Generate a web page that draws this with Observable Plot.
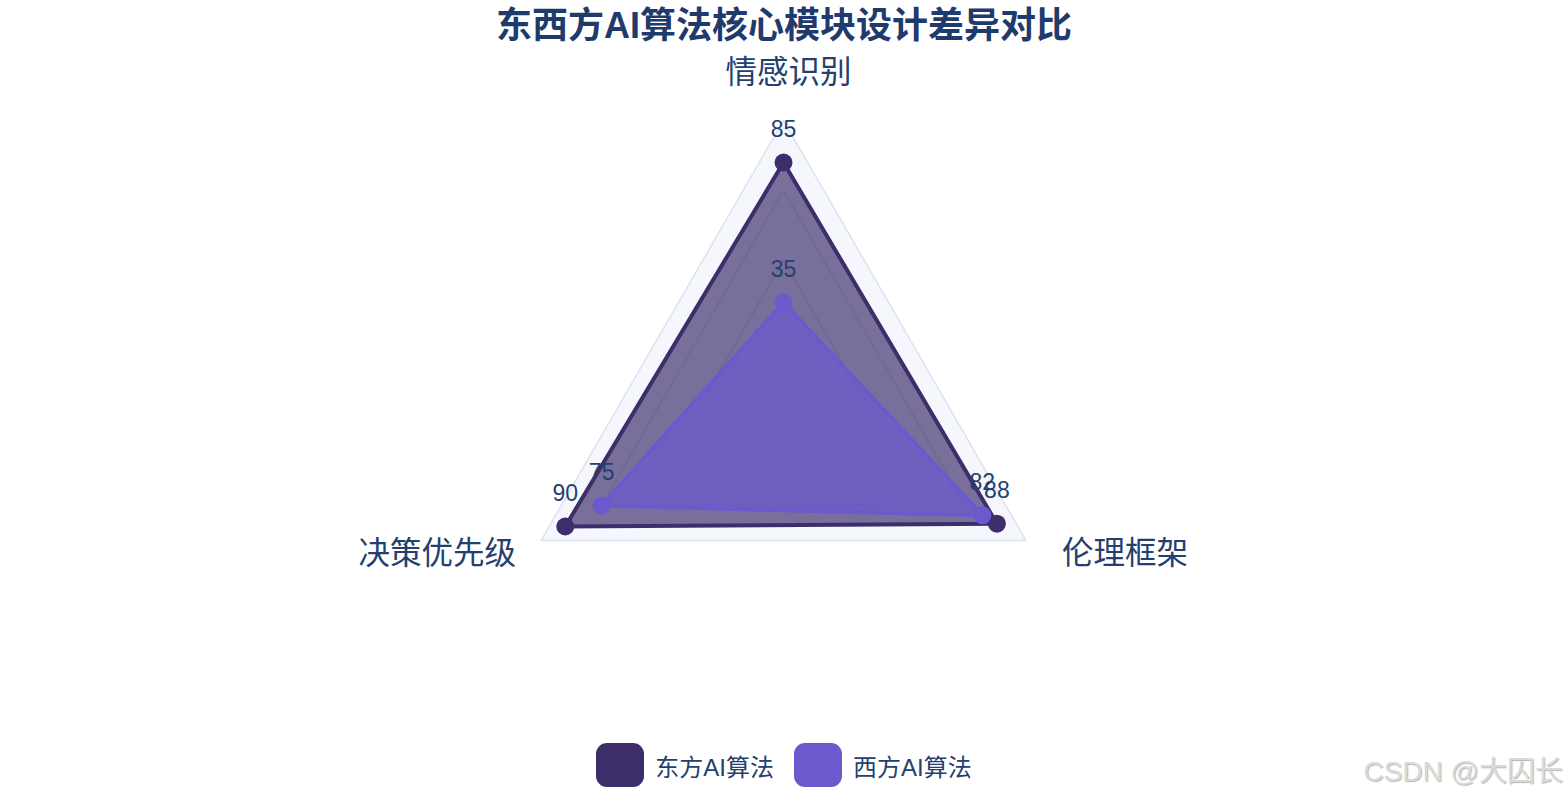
<!DOCTYPE html>
<html>
<head>
<meta charset="utf-8">
<script src="https://cdn.jsdelivr.net/npm/d3@7"></script>
<script src="https://cdn.jsdelivr.net/npm/@observablehq/plot@0.6"></script>
<style>
  html, body { margin: 0; padding: 0; background: #fff; }
  body { width: 1568px; height: 800px; position: relative; overflow: hidden;
         font-family: "Liberation Sans", Arial, "Noto Sans CJK SC", sans-serif; }
  #title { height: 50px; line-height: 51px; text-align: center; font-size: 36px; font-weight: bold;
           color: #1f3a6c; letter-spacing: 0px; }
  #chart { height: 680px; }
  #chart svg { display: block; }
  #legend { height: 70px; display: flex; justify-content: center; align-items: center; gap: 0; }
  .item { display: flex; align-items: center; margin: 0 10px; }
  .sw { width: 48px; height: 44px; border-radius: 11px; margin-right: 11px; }
  .lab { font-size: 24px; color: #24406f; }
  #wm { position: absolute; right: 5px; bottom: 11px; font-size: 28px; color: #dadada;
        text-shadow: 1px 1px 1px #b8b8b8; font-family: "Liberation Sans", Arial, "Noto Sans CJK SC", sans-serif; }
</style>
</head>
<body>
<div id="title"></div>
<div id="chart"></div>
<div id="legend"></div>
<div id="wm">CSDN @大囚长</div>
<script>
// ---- data ----
const titleText = "东西方AI算法核心模块设计差异对比";
const categories = ["情感识别", "伦理框架", "决策优先级"];
const seriesNames = ["东方AI算法", "西方AI算法"];
const eastValues = [85, 88, 90];
const westValues = [35, 82, 75];
const gridLevels = [25, 50, 75];
const radialMax = 100;

// ---- styles ----
const colors = ["#3d2e6b", "#6a5acd"];
const fillOpacity = [0.68, 0.74];
const textColor = "#24406f";
const angleDeg = [90, -30, 210];
const labelStyle = [
  {textAnchor: "middle", dx: 5, dy: -48},
  {textAnchor: "start", dx: 36, dy: 13},
  {textAnchor: "end", dx: -25, dy: 13}
];

function polar(i, v) {
  const a = angleDeg[i] * Math.PI / 180;
  return {x: v * Math.cos(a), y: v * Math.sin(a)};
}
function ring(values, name) {
  return values.map((v, i) => ({...polar(i, v), value: v, category: categories[i], series: name}));
}

const east = ring(eastValues, seriesNames[0]);
const west = ring(westValues, seriesNames[1]);
const outer = ring(categories.map(() => radialMax), "outer");
const grid = gridLevels.flatMap(l => ring(categories.map(() => l), "g" + l));
const axisLabels = ring(categories.map(() => radialMax), "label");

const W = 1568, H = 680, cx = 783, cy = 350, k = 2.8;

document.getElementById("title").textContent = titleText;

const marks = [
  Plot.line(outer, {x: "x", y: "y", curve: "linear-closed", fill: "#f5f7fc", stroke: "#dce3ef", strokeWidth: 1.5}),
];
[[east, 0], [west, 1]].forEach(([d, s]) => {
  marks.push(Plot.line(d, {x: "x", y: "y", curve: "linear-closed", fill: colors[s], fillOpacity: fillOpacity[s],
    stroke: colors[s], strokeWidth: 4, strokeLinejoin: "round"}));
  if (s === 0) {
    marks.push(Plot.line(grid, {x: "x", y: "y", z: "series", curve: "linear-closed", stroke: "#2e2459", strokeOpacity: 0.09, strokeWidth: 1.5}));
  }
  marks.push(Plot.dot(d, {x: "x", y: "y", r: 9, fill: colors[s], stroke: "none"}));
});
[east, west].forEach(d => {
  marks.push(Plot.text(d, {x: "x", y: "y", text: d => String(d.value), dy: -33, fontSize: 23,
    fill: textColor, fontFamily: "Liberation Sans, Arial, sans-serif"}));
});
axisLabels.forEach((d, i) => {
  marks.push(Plot.text([d], {x: "x", y: "y", text: "category", fontSize: 31.5, fill: textColor,
    fontFamily: "Noto Sans CJK SC, sans-serif", ...labelStyle[i]}));
});

const chart = Plot.plot({
  width: W, height: H, margin: 0,
  x: {domain: [-cx / k, (W - cx) / k], axis: null},
  y: {domain: [-(H - cy) / k, cy / k], axis: null},
  style: {background: "transparent", overflow: "visible"},
  marks
});
document.getElementById("chart").appendChild(chart);

const legend = document.getElementById("legend");
seriesNames.forEach((n, i) => {
  const it = document.createElement("div"); it.className = "item";
  const sw = document.createElement("div"); sw.className = "sw"; sw.style.background = colors[i];
  const lb = document.createElement("span"); lb.className = "lab"; lb.textContent = n;
  it.appendChild(sw); it.appendChild(lb); legend.appendChild(it);
});
</script>
</body>
</html>
